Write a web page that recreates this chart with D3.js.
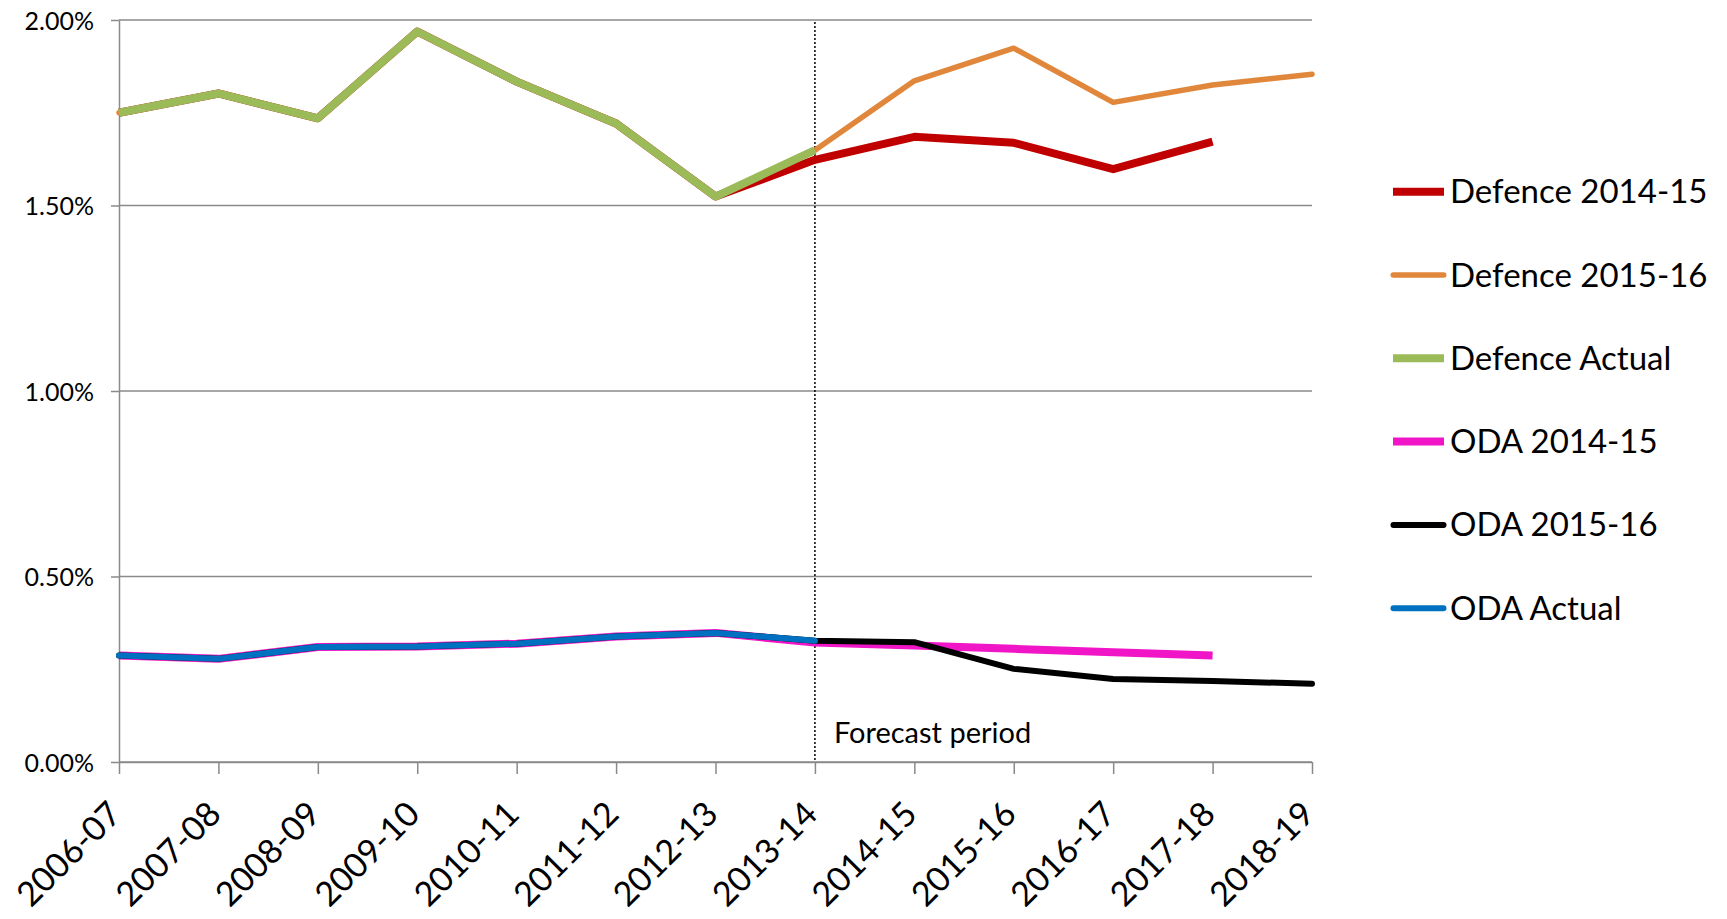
<!DOCTYPE html>
<html>
<head>
<meta charset="utf-8">
<script src="https://cdn.jsdelivr.net/npm/d3@7"></script>
<style>
  html, body { margin: 0; padding: 0; background: #ffffff; }
  svg { display: block; }
  text { font-family: Lato, "Open Sans", "Noto Sans", sans-serif; fill: #000; }
</style>
</head>
<body>
<svg id="chart" width="1727" height="919"></svg>
<script>
// Financial years on the horizontal axis
const categories = ["2006-07", "2007-08", "2008-09", "2009-10", "2010-11", "2011-12", "2012-13",
                    "2013-14", "2014-15", "2015-16", "2016-17", "2017-18", "2018-19"];

// Share of GNI (%) for each series; null where a series has no value
const defence1415   = [1.750, 1.802, 1.735, 1.969, 1.834, 1.721, 1.524, 1.623, 1.685, 1.669, 1.598, 1.672, null];
const defence1516   = [1.750, 1.802, 1.735, 1.969, 1.834, 1.721, 1.524, 1.649, 1.836, 1.924, 1.778, 1.825, 1.854];
const defenceActual = [1.750, 1.802, 1.735, 1.969, 1.834, 1.721, 1.524, 1.649, null, null, null, null, null];
const oda1415       = [0.287, 0.278, 0.310, 0.311, 0.319, 0.338, 0.348, 0.322, 0.314, 0.305, 0.296, 0.287, null];
const oda1516       = [0.287, 0.278, 0.310, 0.311, 0.319, 0.338, 0.348, 0.327, 0.323, 0.251, 0.224, 0.218, 0.211];
const odaActual     = [0.287, 0.278, 0.310, 0.311, 0.319, 0.338, 0.348, 0.327, null, null, null, null, null];

// Value-axis ticks
const yTicks = [0, 0.5, 1.0, 1.5, 2.0];

const seriesNames = ["Defence 2014-15", "Defence 2015-16", "Defence Actual", "ODA 2014-15", "ODA 2015-16", "ODA Actual"];
const seriesValues = [defence1415, defence1516, defenceActual, oda1415, oda1516, odaActual];
const forecastStart = "2013-14";
const forecastLabel = "Forecast period";

// Line styles per series (drawn in this order, later ones on top)
const styles = [
  { color: "#C00000", width: 8,   cap: "butt"  },
  { color: "#E0873B", width: 5.5, cap: "round" },
  { color: "#9BBB59", width: 8,   cap: "butt"  },
  { color: "#F015C6", width: 8,   cap: "butt"  },
  { color: "#000000", width: 6,   cap: "round" },
  { color: "#0070C0", width: 6,   cap: "round" }
];

const svg = d3.select("#chart");
svg.append("rect").attr("width", 1727).attr("height", 919).attr("fill", "#fff");

const x = d3.scalePoint().domain(categories).range([119, 1312]);
const y = d3.scaleLinear().domain([0, 2]).range([762, 20]);

const gridColor = "#8A8A8A";

// Horizontal gridlines
svg.append("g")
  .selectAll("line")
  .data(yTicks)
  .join("line")
  .attr("x1", x.range()[0])
  .attr("x2", x.range()[1])
  .attr("y1", d => y(d))
  .attr("y2", d => y(d))
  .attr("stroke", gridColor)
  .attr("stroke-width", 1.5);

// Value axis
const yAxis = svg.append("g")
  .attr("transform", `translate(${x.range()[0]},0)`)
  .call(d3.axisLeft(y).tickValues(yTicks).tickSize(8).tickSizeOuter(0)
    .tickFormat(d => d3.format(".2f")(d) + "%"));
yAxis.select(".domain").attr("stroke", gridColor).attr("stroke-width", 1.5);
yAxis.selectAll(".tick line").attr("stroke", gridColor).attr("stroke-width", 1.5);
yAxis.selectAll(".tick text")
  .attr("x", -25)
  .attr("dy", "0.36em")
  .style("font-size", "25px")
  .style("font-family", "Lato, 'Open Sans', sans-serif")
  .attr("fill", "#000");

// Category axis
const xAxis = svg.append("g")
  .attr("transform", `translate(0,${y(0)})`)
  .call(d3.axisBottom(x).tickSize(12).tickSizeOuter(0));
xAxis.select(".domain").attr("stroke", gridColor).attr("stroke-width", 1.5);
xAxis.selectAll(".tick line").attr("stroke", gridColor).attr("stroke-width", 1.5);
xAxis.selectAll(".tick text")
  .attr("x", 0).attr("y", 0).attr("dy", 0)
  .attr("transform", "translate(4,54) rotate(-45)")
  .style("text-anchor", "end")
  .style("font-size", "34px")
  .style("font-family", "Lato, 'Open Sans', sans-serif")
  .attr("fill", "#000");

// Dotted marker where the forecast begins
svg.append("line")
  .attr("x1", x(forecastStart)).attr("x2", x(forecastStart))
  .attr("y1", y(2) + 2).attr("y2", y(0))
  .attr("stroke", "#000")
  .attr("stroke-width", 1.5)
  .attr("stroke-dasharray", "2,2");

svg.append("text")
  .attr("x", x(forecastStart) + 19)
  .attr("y", 743)
  .style("font-size", "29px")
  .text(forecastLabel);

// Series lines
const line = d3.line()
  .defined(d => d.v != null)
  .x(d => x(d.c))
  .y(d => y(d.v));

seriesValues.forEach((vals, i) => {
  const pts = categories.map((c, j) => ({ c, v: vals[j] }));
  svg.append("path")
    .datum(pts)
    .attr("d", line)
    .attr("fill", "none")
    .attr("stroke", styles[i].color)
    .attr("stroke-width", styles[i].width)
    .attr("stroke-linecap", styles[i].cap)
    .attr("stroke-linejoin", "round");
});

// Legend
const legend = svg.append("g");
seriesNames.forEach((name, i) => {
  const cy = 191.7 + i * 83.3;
  const s = styles[i];
  const inset = s.cap === "round" ? s.width / 2 : 0;
  legend.append("line")
    .attr("x1", 1393 + inset - (s.cap === "round" ? 2.5 : 0))
    .attr("x2", 1444 - inset + (s.cap === "round" ? 2.5 : 0))
    .attr("y1", cy).attr("y2", cy)
    .attr("stroke", s.color)
    .attr("stroke-width", s.width)
    .attr("stroke-linecap", s.cap);
  legend.append("text")
    .attr("x", 1450)
    .attr("y", cy + 11.5)
    .style("font-size", "33px")
    .text(name);
});
</script>
</body>
</html>
